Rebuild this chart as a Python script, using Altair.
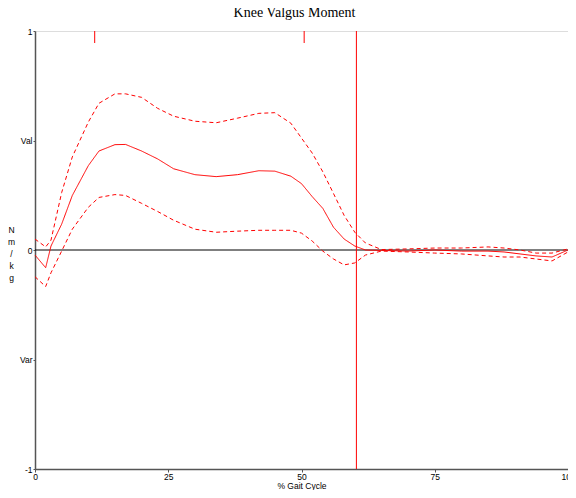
import altair as alt
import pandas as pd

# % gait cycle sample points
pct = [0, 2, 3, 5, 7, 10, 12, 15, 17, 20, 23, 26, 30, 34, 38, 42, 45, 48, 50,
       52, 54, 56, 58, 60, 62, 65, 70, 75, 80, 85, 88, 91, 94, 97, 100]

# Mean knee valgus moment (N m / kg)
mean_vals = [-0.023, -0.081, 0.018, 0.118, 0.249, 0.385, 0.452, 0.481, 0.482, 0.452,
             0.416, 0.371, 0.344, 0.335, 0.344, 0.362, 0.360, 0.337, 0.303,
             0.244, 0.190, 0.104, 0.050, 0.018, 0.000, -0.002, -0.005, 0.000,
             -0.005, -0.005, -0.009, -0.018, -0.027, -0.032, 0.000]

# Mean + 1 SD
upper_vals = [0.050, 0.014, 0.045, 0.262, 0.425, 0.584, 0.670, 0.713, 0.713, 0.697,
              0.647, 0.611, 0.588, 0.581, 0.602, 0.624, 0.627, 0.579, 0.511,
              0.443, 0.357, 0.258, 0.158, 0.081, 0.032, 0.002, 0.005, 0.009,
              0.009, 0.014, 0.009, 0.000, -0.014, -0.014, 0.005]

# Mean - 1 SD
lower_vals = [-0.122, -0.167, -0.104, -0.005, 0.095, 0.195, 0.240, 0.253, 0.249, 0.213,
              0.176, 0.136, 0.095, 0.081, 0.086, 0.090, 0.090, 0.090, 0.077,
              0.041, -0.005, -0.041, -0.068, -0.059, -0.023, -0.005, -0.009, -0.014,
              -0.018, -0.027, -0.032, -0.032, -0.041, -0.050, -0.009]

event_ticks = [11.2, 50.5]
toe_off = [60.3]

series_names = ["mean", "upper", "lower"]

rows = []
for name, vals in zip(series_names, [mean_vals, upper_vals, lower_vals]):
    for p, v in zip(pct, vals):
        rows.append({"pct": p, "value": v, "series": name})
df = pd.DataFrame(rows)

RED = "#ff0000"
FONT = "Liberation Sans"
AXIS_GREY = "#555555"

y_label_expr = ("datum.value == 1 ? '1' : datum.value == 0.5 ? 'Val' : "
                "datum.value == 0 ? '0' : datum.value == -0.5 ? 'Var' : '-1'")

x_enc = alt.X("pct:Q", scale=alt.Scale(domain=[0, 100], nice=False),
              axis=alt.Axis(values=[0, 25, 50, 75, 100], title="% Gait Cycle",
                            grid=False, tickSize=3, labelFontSize=8.5, labelFont=FONT,
                            labelColor="black", titleFont=FONT, titleFontSize=8.5,
                            titleFontWeight="normal", titleColor="black",
                            titleY=12, titleBaseline="top",
                            labelPadding=0, domainColor=AXIS_GREY,
                            domainWidth=1.5, tickColor=AXIS_GREY, labelFlush=False))
y_enc = alt.Y("value:Q", scale=alt.Scale(domain=[-1, 1], nice=False),
              axis=alt.Axis(values=[-1, -0.5, 0, 0.5, 1], labelExpr=y_label_expr,
                            title=["N", "m", "/", "k", "g"], titleAngle=0,
                            titleX=-24, titleY=198, titleAlign="center",
                            titleBaseline="middle", titleLineHeight=12,
                            titleFont=FONT, titleFontSize=8.5, titleFontWeight="normal",
                            titleColor="black", grid=False, tickSize=2,
                            labelFontSize=8.5, labelFont=FONT, labelColor="black",
                            labelPadding=1, domainColor=AXIS_GREY, domainWidth=1.5,
                            tickColor=AXIS_GREY, labelFlush=False))

lines = alt.Chart(df).mark_line(color=RED, strokeWidth=1).encode(
    x=x_enc,
    y=y_enc,
    detail="series:N",
    strokeDash=alt.StrokeDash("series:N",
                              scale=alt.Scale(domain=series_names,
                                              range=[[1, 0], [4, 3], [4, 3]]),
                              legend=None),
)

zero_line = alt.Chart(pd.DataFrame({"z": [0]})).mark_rule(
    color="black", strokeWidth=1).encode(y="z:Q")

toe_df = pd.DataFrame({"t": toe_off})
toe_line = alt.Chart(toe_df).mark_rule(color=RED, strokeWidth=1).encode(x="t:Q")

ev_df = pd.DataFrame({"e": event_ticks})
ev_ticks = alt.Chart(ev_df).mark_rule(color=RED, strokeWidth=1).encode(
    x="e:Q", y=alt.value(0), y2=alt.value(12))

chart = alt.layer(zero_line, lines, toe_line, ev_ticks).properties(
    width=533, height=438,
    title=alt.TitleParams("Knee Valgus Moment", font="Liberation Serif",
                          fontSize=14, fontWeight="normal", color="black",
                          anchor="middle", offset=7, dx=-7),
    autosize=alt.AutoSizeParams(type="none"),
    padding={"left": 27, "top": 23, "right": 0, "bottom": 21},
).configure_view(stroke=AXIS_GREY, strokeWidth=1.5).configure(background="white")

chart.save("out.html", embed_options={"renderer": "svg", "actions": False})
